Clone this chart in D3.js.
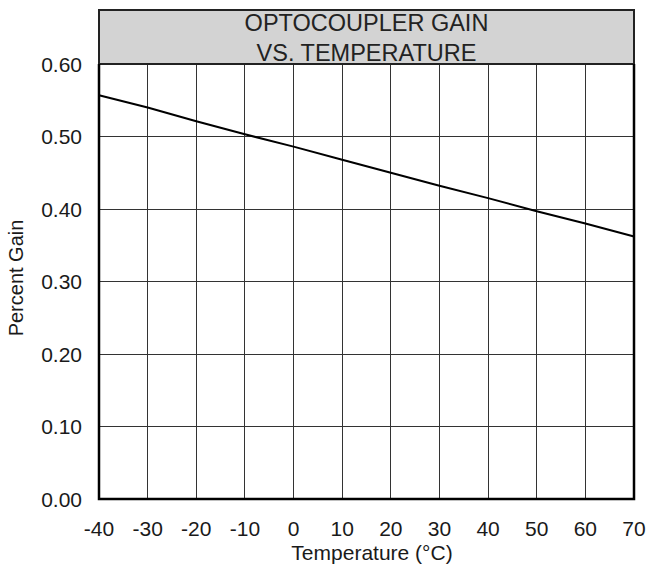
<!DOCTYPE html>
<html><head><meta charset="utf-8">
<script src="https://cdn.jsdelivr.net/npm/d3@7"></script>
<style>body{margin:0;background:#fff}svg{display:block;font-family:"Liberation Sans",Arial,sans-serif}</style>
</head><body><svg id="c" width="649" height="570"></svg>
<script>
const temps = [-40,-30,-20,-10,0,10,20,30,40,50,60,70];
const gain = [0.557,0.540,0.521,0.503,0.486,0.468,0.450,0.432,0.415,0.397,0.380,0.362];
const xTicks = [-40,-30,-20,-10,0,10,20,30,40,50,60,70];
const yTicks = [0,0.1,0.2,0.3,0.4,0.5,0.6];
const titleLines = ["OPTOCOUPLER GAIN","VS. TEMPERATURE"];

const svg = d3.select("#c");
const L=99,R=634,T=64,B=499;
const x = d3.scaleLinear().domain([-40,70]).range([L,R]);
const y = d3.scaleLinear().domain([0,0.6]).range([B,T]);

// grid
svg.append("g").selectAll("line").data(xTicks.slice(1,-1)).join("line")
  .attr("x1",d=>x(d)).attr("x2",d=>x(d)).attr("y1",T).attr("y2",B)
  .attr("stroke","#333").attr("stroke-width",1).attr("shape-rendering","crispEdges");
svg.append("g").selectAll("line").data(yTicks.slice(1,-1)).join("line")
  .attr("y1",d=>y(d)).attr("y2",d=>y(d)).attr("x1",L).attr("x2",R)
  .attr("stroke","#333").attr("stroke-width",1).attr("shape-rendering","crispEdges");

// title box
svg.append("rect").attr("x",L).attr("y",10).attr("width",R-L).attr("height",T-10)
  .attr("fill","#d3d3d3").attr("stroke","#222").attr("stroke-width",2);
svg.append("g").selectAll("text").data(titleLines).join("text")
  .attr("x",(L+R)/2).attr("y",(d,i)=>31+i*29.5).attr("text-anchor","middle")
  .attr("font-size",23.5).attr("fill","#222").text(d=>d);

// frame
svg.append("path").attr("d",`M${L},${T}V${B}H${R}V${T}`).attr("fill","none")
  .attr("stroke","#000").attr("stroke-width",2.5);

// line
svg.append("path").datum(temps.map((t,i)=>[t,gain[i]]))
  .attr("d",d3.line().x(d=>x(d[0])).y(d=>y(d[1])))
  .attr("fill","none").attr("stroke","#000").attr("stroke-width",2);

// axes labels
svg.append("g").selectAll("text").data(yTicks).join("text")
  .attr("x",82).attr("y",d=>y(d)+7.5).attr("text-anchor","end").attr("font-size",21)
  .attr("fill","#1a1a1a").text(d=>d.toFixed(2));
svg.append("g").selectAll("text").data(xTicks).join("text")
  .attr("x",d=>x(d)).attr("y",536).attr("text-anchor","middle").attr("font-size",21)
  .attr("fill","#1a1a1a").text(d=>d);
svg.append("text").attr("x",372).attr("y",560).attr("text-anchor","middle")
  .attr("font-size",21).attr("fill","#1a1a1a").text("Temperature (°C)");
svg.append("text").attr("transform",`translate(23,278) rotate(-90)`)
  .attr("text-anchor","middle").attr("font-size",20).attr("fill","#1a1a1a").text("Percent Gain");
</script></body></html>
